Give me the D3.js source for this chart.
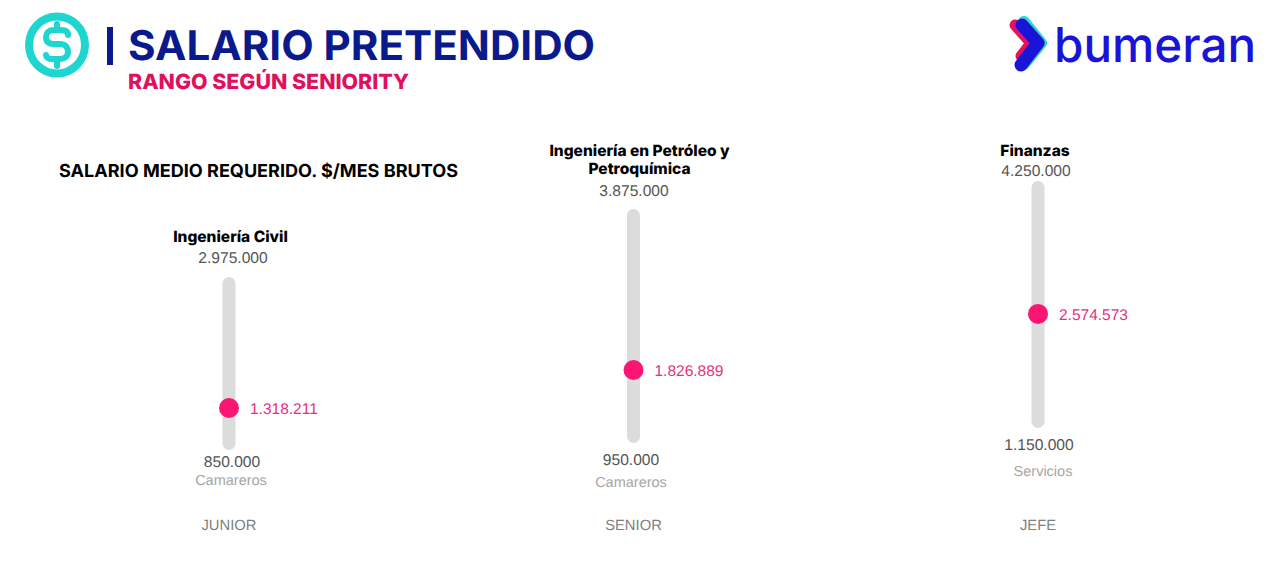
<!DOCTYPE html>
<html>
<head>
<meta charset="utf-8">
<script src="https://cdn.jsdelivr.net/npm/d3@7"></script>
<style>
  html, body { margin: 0; padding: 0; background: #fff; }
  svg { display: block; }
  text { font-family: "Liberation Sans", Arial, sans-serif; text-rendering: geometricPrecision; }
  .head { font-family: Inter, "Open Sans", sans-serif; }
</style>
</head>
<body>
<div id="chart"></div>
<script>
// data
const levels = ["JUNIOR", "SENIOR", "JEFE"];
const maxValues = [2975000, 3875000, 4250000];
const minValues = [850000, 950000, 1150000];
const meanValues = [1318211, 1826889, 2574573];
const maxCareers = [["Ingeniería Civil"], ["Ingeniería en Petróleo y", "Petroquímica"], ["Finanzas"]];
const minCareers = ["Camareros", "Camareros", "Servicios"];

// layout of each column, in pixels
const trackTop = [277, 209, 181];
const trackBottom = [450, 443, 428];
const maxLabelX = [233, 634, 1036];
const maxLabelY = [258, 190.5, 170.5];
const minLabelX = [232, 631, 1039];
const minLabelY = [462, 460, 444.5];
const minCareerX = [231, 631, 1043];
const minCareerY = [480, 482, 471];
const careerX = [230.5, 639.5, 1035];
const careerY = [236.5, 150.5, 150.5];

const width = 1280, height = 577;
const svg = d3.select("#chart").append("svg").attr("width", width).attr("height", height);

const locale = d3.formatLocale({decimal: ",", thousands: ".", grouping: [3], currency: ["$", ""]});
const fmt = locale.format(",d");

const x = d3.scalePoint().domain(levels).range([229, 1038]);

// header: dollar icon
const icon = svg.append("g").attr("transform", "translate(57,45)");
icon.append("ellipse").attr("rx", 28).attr("ry", 28.5).attr("fill", "none").attr("stroke", "#1fd5cf").attr("stroke-width", 8);
icon.append("path")
    .attr("d", "M11,-10 C11,-14 8,-15 4,-15 L-3,-15 C-9,-15 -11,-11 -11,-8 C-11,-3 -8,-1 -3,-1 L3,-1 C9,-1 11,3 11,7 C11,11 8,14 3,14 L-5,14 C-9,14 -11,12 -11,10 M0,-21 L0,-15 M0,14 L0,21")
    .attr("fill", "none").attr("stroke", "#1fd5cf").attr("stroke-width", 6).attr("stroke-linecap", "round");

svg.append("rect").attr("x", 107).attr("y", 27).attr("width", 6).attr("height", 38).attr("fill", "#0a1a8c");

svg.append("text").attr("class", "head").attr("x", 128).attr("y", 60)
    .attr("textLength", 467).attr("lengthAdjust", "spacingAndGlyphs")
    .attr("font-size", 41).attr("font-weight", 700).attr("fill", "#0a1a8c")
    .text("SALARIO PRETENDIDO");
svg.append("text").attr("class", "head").attr("x", 128).attr("y", 89)
    .attr("textLength", 281).attr("lengthAdjust", "spacingAndGlyphs")
    .attr("font-size", 21).attr("font-weight", 800).attr("fill", "#e0105f")
    .text("RANGO SEGÚN SENIORITY");

// bumeran logo
const logo = svg.append("g").attr("fill", "none").attr("stroke-linecap", "round").attr("stroke-linejoin", "round");
logo.append("path").attr("d", "M1024,22 L1041,43 L1024,64").attr("stroke", "#2fd6cf").attr("stroke-width", 12);
logo.append("path").attr("d", "M1015,25 L1031,43 L1021,56").attr("stroke", "#e5125f").attr("stroke-width", 11);
logo.append("path").attr("d", "M1022,25 L1038,43 L1021,65").attr("stroke", "#1a14d8").attr("stroke-width", 13);
svg.append("text").attr("class", "head").attr("x", 1054).attr("y", 62)
    .attr("textLength", 202).attr("lengthAdjust", "spacingAndGlyphs")
    .attr("font-size", 48).attr("font-weight", 500).attr("fill", "#1a14d8")
    .text("bumeran");

svg.append("text").attr("class", "head").attr("x", 59).attr("y", 177)
    .attr("textLength", 399).attr("lengthAdjust", "spacingAndGlyphs")
    .attr("font-size", 18).attr("font-weight", 700).attr("fill", "#000")
    .text("SALARIO MEDIO REQUERIDO. $/MES BRUTOS");

// one column per level
levels.forEach(function(level, i) {
    const cx = x(level);
    const y = d3.scaleLinear()
        .domain([minValues[i], maxValues[i]])
        .range([trackBottom[i] - 7, trackTop[i] + 7]);
    const g = svg.append("g");

    g.append("rect")
        .attr("x", cx - 6.5).attr("width", 13)
        .attr("y", y(maxValues[i]) - 7)
        .attr("height", y(minValues[i]) - y(maxValues[i]) + 14)
        .attr("rx", 6.5).attr("fill", "#dcdcdc");

    g.append("circle").attr("cx", cx).attr("cy", y(meanValues[i])).attr("r", 10).attr("fill", "#fb1673");

    g.append("text").attr("x", cx + 21).attr("y", y(meanValues[i]) + 6)
        .attr("font-size", 15.5).attr("fill", "#e6307e")
        .text(fmt(meanValues[i]));

    g.append("text").attr("x", maxLabelX[i]).attr("y", maxLabelY[i]).attr("dy", "0.35em")
        .attr("text-anchor", "middle").attr("font-size", 15.6).attr("fill", "#555")
        .text(fmt(maxValues[i]));

    g.append("text").attr("x", minLabelX[i]).attr("y", minLabelY[i]).attr("dy", "0.35em")
        .attr("text-anchor", "middle").attr("font-size", 15.6).attr("fill", "#555")
        .text(fmt(minValues[i]));

    g.append("text").attr("x", minCareerX[i]).attr("y", minCareerY[i]).attr("dy", "0.35em")
        .attr("text-anchor", "middle").attr("font-size", 14.5).attr("fill", "#a6a6a6")
        .text(minCareers[i]);

    maxCareers[i].forEach(function(line, j) {
        g.append("text").attr("class", "head").attr("x", careerX[i])
            .attr("y", careerY[i] + j * 18).attr("dy", "0.35em")
            .attr("text-anchor", "middle").attr("font-size", 15.5).attr("font-weight", 800).attr("fill", "#000")
            .text(line);
    });

    g.append("text").attr("x", cx).attr("y", 525).attr("dy", "0.35em")
        .attr("text-anchor", "middle").attr("font-size", 14.8).attr("fill", "#7f7f7f")
        .text(level);
});
</script>
</body>
</html>
